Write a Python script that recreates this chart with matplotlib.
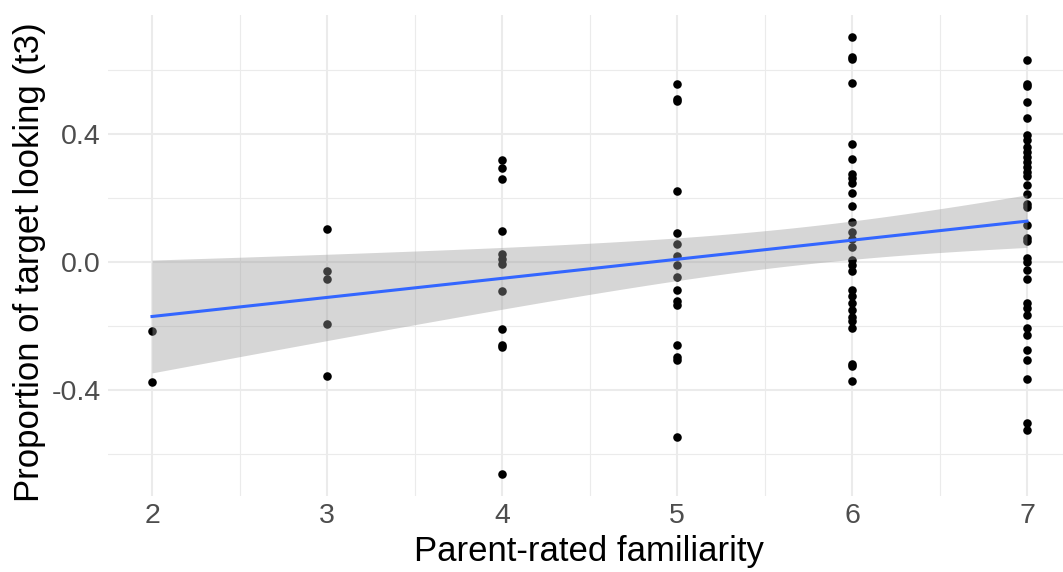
import numpy as np
import matplotlib.pyplot as plt
from matplotlib.ticker import FixedLocator

plt.rcParams['font.family'] = ['Liberation Sans', 'DejaVu Sans']

# proportion of target looking (t3), grouped by parent-rated familiarity
fam_levels = [2, 3, 4, 5, 6, 7]
fam2 = [-0.216, -0.375]
fam3 = [0.102, -0.027, -0.052, -0.193, -0.356]
fam4 = [0.318, 0.294, 0.260, 0.098, 0.025, 0.008, -0.008, -0.091, -0.210,
        -0.260, -0.266, -0.664]
fam5 = [0.555, 0.510, 0.503, 0.222, 0.090, 0.055, 0.017, -0.009, -0.046,
        -0.088, -0.121, -0.134, -0.261, -0.296, -0.306, -0.549]
fam6 = [0.702, 0.640, 0.633, 0.558, 0.369, 0.321, 0.275, 0.261, 0.246,
        0.215, 0.175, 0.124, 0.095, 0.071, 0.048, 0.006, -0.009, -0.030,
        -0.088, -0.108, -0.129, -0.150, -0.171, -0.186, -0.207, -0.319,
        -0.327, -0.372]
fam7 = [0.631, 0.555, 0.550, 0.500, 0.450, 0.397, 0.381, 0.360, 0.345,
        0.329, 0.313, 0.298, 0.282, 0.269, 0.241, 0.213, 0.181, 0.173,
        0.116, 0.074, 0.064, 0.011, 0.001, -0.025, -0.054, -0.129, -0.145,
        -0.166, -0.207, -0.228, -0.275, -0.306, -0.365, -0.504, -0.525]
groups = [fam2, fam3, fam4, fam5, fam6, fam7]

x = np.concatenate([[lv] * len(g) for lv, g in zip(fam_levels, groups)]).astype(float)
y = np.concatenate(groups)

# lm fit + 95% CI (like geom_smooth(method = "lm"))
n = len(x)
slope, icpt = np.polyfit(x, y, 1)
resid = y - (icpt + slope * x)
s = np.sqrt(np.sum(resid ** 2) / (n - 2))
sxx = np.sum((x - x.mean()) ** 2)
xs = np.linspace(x.min(), x.max(), 100)
fit = icpt + slope * xs
se = s * np.sqrt(1.0 / n + (xs - x.mean()) ** 2 / sxx)
tcrit = 1.985

fig = plt.figure(figsize=(10.63, 5.72), dpi=100)
ax = fig.add_axes([108 / 1063, 76 / 572, 955 / 1063, 481 / 572])

ax.scatter(x, y, s=38, color='black', linewidths=0, zorder=2)
ax.fill_between(xs, fit - tcrit * se, fit + tcrit * se, color='#999999',
                alpha=0.4, linewidth=0, zorder=3)
ax.plot(xs, fit, color='#3366FF', lw=2.2, zorder=4)

ax.set_xlim(2 - 44 / 175, 7 + 36 / 175)
ax.set_ylim(-0.732, 0.772)

ax.xaxis.set_major_locator(FixedLocator(fam_levels))
ax.xaxis.set_minor_locator(FixedLocator([2.5, 3.5, 4.5, 5.5, 6.5]))
ax.yaxis.set_major_locator(FixedLocator([-0.4, 0.0, 0.4]))
ax.yaxis.set_minor_locator(FixedLocator([-0.6, -0.2, 0.2, 0.6]))
ax.set_yticklabels(['-0.4', '0.0', '0.4'])

ax.grid(which='major', color='#EBEBEB', lw=1.5, zorder=0)
ax.grid(which='minor', color='#EBEBEB', lw=0.8, zorder=0)
ax.set_axisbelow(True)
for sp in ax.spines.values():
    sp.set_visible(False)
ax.tick_params(which='both', length=0)
ax.tick_params(axis='x', pad=5, labelsize=20.5, labelcolor='#4D4D4D')
ax.tick_params(axis='y', pad=5, labelsize=20.5, labelcolor='#4D4D4D')

fig.text(589 / 1063, 1 - 551 / 572, 'Parent-rated familiarity', ha='center',
         va='center', fontsize=25, color='black')
fig.text(30 / 1063, 1 - 262 / 572, 'Proportion of target looking (t3)',
         ha='center', va='center', rotation=90, fontsize=25, color='black')

fig.savefig('out.png', dpi=100)
